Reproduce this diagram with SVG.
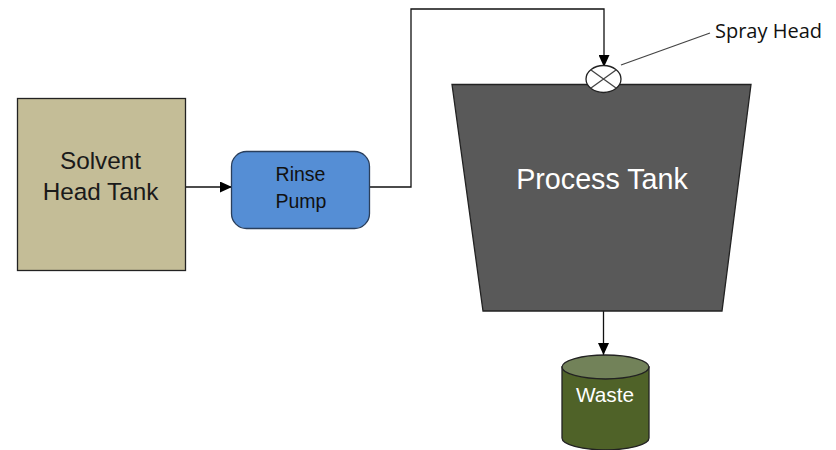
<svg xmlns="http://www.w3.org/2000/svg" width="836" height="450" viewBox="0 0 836 450">
<style>
text{font-family:"Liberation Sans",Arial,sans-serif;text-anchor:middle}
.c{fill:none;stroke:#111;stroke-width:1.3}
.s{stroke:#222;stroke-width:1.3}
</style>
<defs><marker id="a" markerUnits="userSpaceOnUse" markerWidth="13" markerHeight="11" refX="12" refY="5.500" orient="auto"><path d="M0 0L12 5.500L0 11Z" fill="#000"/></marker></defs>
<rect width="836" height="450" fill="#fff"/>
<g id="connectors">
<path class="c" d="M186 187H232" marker-end="url(#a)"/>
<path class="c" d="M369 187H411V9H604V67" marker-end="url(#a)"/>
<path class="c" d="M603.500 311V355" marker-end="url(#a)"/>
<path d="M621 65L710 33" fill="none" stroke="#444" stroke-width="1.300"/>
</g>
<g id="solvent-head-tank"><rect class="s" x="17.500" y="98.500" width="168" height="172" fill="#c4bd97"/>
<text font-size="24.300" fill="#1a1a1a"><tspan x="100.500" y="169">Solvent</tspan><tspan x="100.500" y="200">Head Tank</tspan></text></g>
<g id="rinse-pump"><rect x="231.500" y="151.500" width="138" height="77" rx="15" fill="#558ed5" stroke="#2a3f5c" stroke-width="1.300"/>
<text font-size="19.500" fill="#111"><tspan x="300.500" y="181">Rinse</tspan><tspan x="301" y="208">Pump</tspan></text></g>
<g id="process-tank"><path class="s" d="M452 84.500H751L722 311H483Z" fill="#595959"/>
<text x="602" y="188.500" font-size="28.700" fill="#fff">Process Tank</text></g>
<g id="spray-head"><ellipse cx="603.500" cy="79" rx="17.500" ry="13.500" fill="#fff" stroke="#222" stroke-width="1.300"/>
<path d="M591 70L616 88M616 70L591 88" stroke="#444" stroke-width="1.300"/>
<text x="768.500" y="38" font-size="20" fill="#111" style="font-family:'Open Sans','Liberation Sans',sans-serif">Spray Head</text></g>
<g id="waste"><path class="s" d="M562 367V438A42 11.500 0 0 0 649 438V367Z" fill="#4f6228"/>
<ellipse class="s" cx="605.500" cy="367" rx="43.500" ry="12" fill="#728259"/>
<text x="605" y="402" font-size="20.800" fill="#fff">Waste</text></g>
</svg>
